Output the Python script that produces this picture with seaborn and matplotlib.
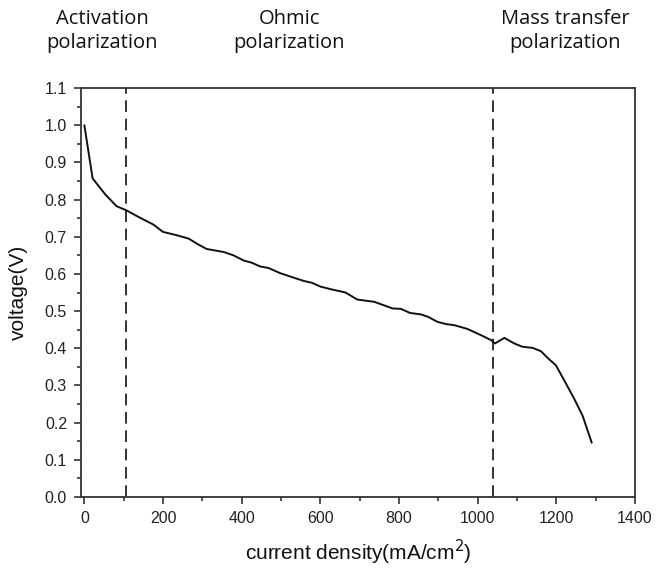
import numpy as np
import pandas as pd
import matplotlib
matplotlib.use("Agg")
import matplotlib.pyplot as plt
import seaborn as sns
from matplotlib.ticker import MultipleLocator, FormatStrFormatter

# ===============================
# DATA
# ===============================
current_density = [0, 21, 53, 82, 107, 138, 175, 200, 235, 265, 290, 311, 354, 379,
                   405, 426, 447, 468, 498, 532, 558, 579, 600, 626, 664, 694, 737,
                   784, 805, 828, 856, 873, 898, 920, 941, 974, 1009, 1034, 1044,
                   1068, 1093, 1114, 1140, 1161, 1178, 1199, 1221, 1246, 1267, 1290]
voltage = [1.0, 0.857, 0.814, 0.782, 0.771, 0.753, 0.733, 0.713, 0.704, 0.695, 0.679,
           0.667, 0.659, 0.650, 0.636, 0.630, 0.620, 0.616, 0.602, 0.590, 0.581, 0.576,
           0.566, 0.559, 0.550, 0.531, 0.525, 0.507, 0.506, 0.495, 0.491, 0.485, 0.471,
           0.465, 0.462, 0.452, 0.435, 0.422, 0.413, 0.428, 0.413, 0.404, 0.401, 0.392,
           0.374, 0.354, 0.312, 0.263, 0.218, 0.146]

region_bounds = [106, 1039]
region_labels = ["Activation\npolarization", "Ohmic\npolarization", "Mass transfer\npolarization"]
region_label_x = [102, 289, 565]  # pixel centers along the top

df = pd.DataFrame({"current_density": current_density, "voltage": voltage})

# ===============================
# PLOT
# ===============================
sns.set_style("ticks")
plt.rcParams["font.family"] = ["Liberation Sans", "DejaVu Sans"]

W, H = 656, 570
fig = plt.figure(figsize=(W / 100, H / 100), dpi=100)
ax = fig.add_axes([81 / W, 1 - 497 / H, (635 - 81) / W, (497 - 88) / H])

sns.lineplot(data=df, x="current_density", y="voltage", ax=ax,
             color="#111111", linewidth=1.4, estimator=None, sort=False)

for xb in region_bounds:
    ax.axvline(xb, color="#111111", linestyle=(0, (7, 4)), linewidth=1.2)

ax.set_xlim(-8.5, 1400)
ax.set_ylim(0, 1.1)
ax.xaxis.set_major_locator(MultipleLocator(200))
ax.xaxis.set_minor_locator(MultipleLocator(100))
ax.yaxis.set_major_locator(MultipleLocator(0.1))
ax.yaxis.set_minor_locator(MultipleLocator(0.05))
ax.yaxis.set_major_formatter(FormatStrFormatter("%.1f"))

ax.tick_params(which="major", direction="out", length=5, width=1.1, labelsize=11.5,
               colors="#222222", pad=5)
ax.tick_params(which="minor", direction="out", length=3, width=1.1, colors="#222222")
for s in ax.spines.values():
    s.set_visible(True)
    s.set_linewidth(1.3)
    s.set_color("#333333")

ax.set_xlabel("current density(mA/cm$^2$)", fontsize=15, color="#111111")
ax.set_ylabel("voltage(V)", fontsize=15, color="#111111")
ax.xaxis.label.set_va("center")
ax.yaxis.label.set_va("center")
ax.xaxis.set_label_coords(0.5, (497 - 552) / 409)
ax.yaxis.set_label_coords((18 - 81) / 554, 0.5)

for lbl, px in zip(region_labels, region_label_x):
    fig.text(px / W, 1 - 31 / H, lbl, ha="center", va="center", fontsize=14.5,
             family=["Open Sans", "DejaVu Sans"], linespacing=1.3, color="#111111")

fig.savefig("out.png", dpi=100)
